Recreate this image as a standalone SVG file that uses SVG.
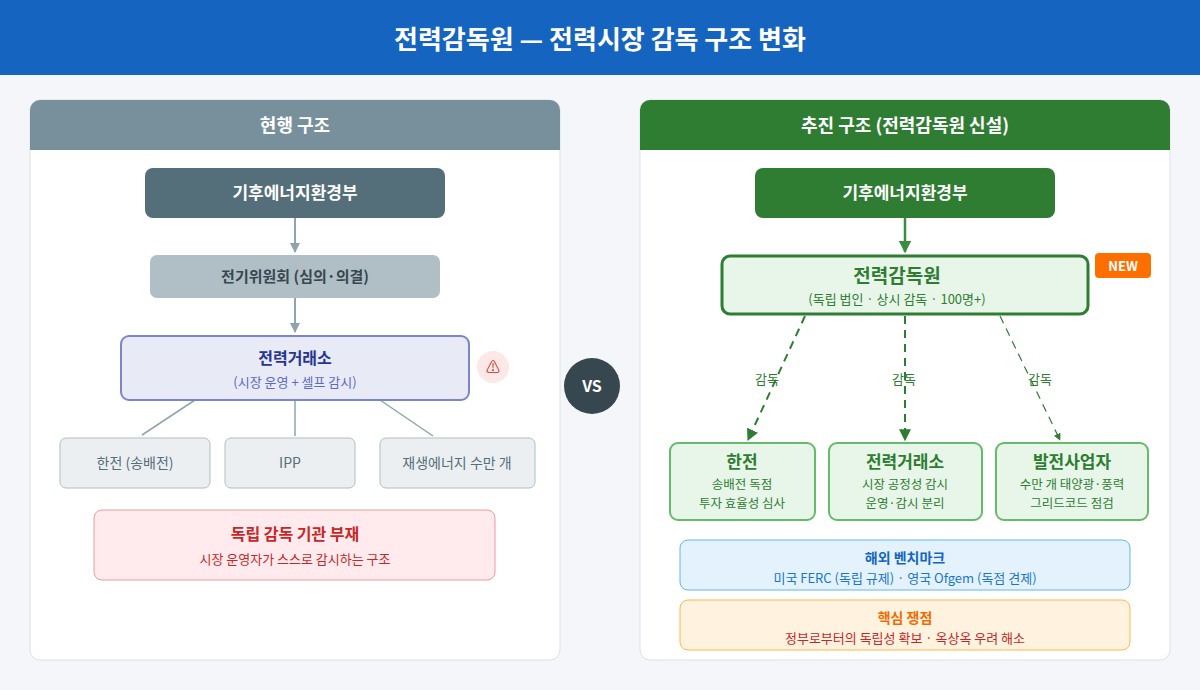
<svg xmlns="http://www.w3.org/2000/svg" width="1200" height="690" viewBox="0 0 1200 690">
<style>
text{font-family:"Noto Sans CJK KR","Noto Sans",sans-serif;text-anchor:middle}
.b{font-weight:bold}
.panel{fill:#fff;stroke:#dde1e7;stroke-width:1}
.sm{fill:#eceff1;stroke:#b0bec5;stroke-width:1}
.gb{fill:#e8f5e9;stroke:#66bb6a;stroke-width:2}
.gt{fill:#2e7d32}
</style>
<defs>
<marker id="ag" viewBox="0 0 10 10" refX="9" refY="5" markerWidth="5" markerHeight="5" orient="auto"><path d="M0,0L10,5L0,10z" fill="#90a4ae"/></marker>
<marker id="ag2" viewBox="0 0 10 10" refX="9" refY="5" markerWidth="5" markerHeight="5" orient="auto"><path d="M0,0L10,5L0,10z" fill="#388e3c"/></marker>
<marker id="ad" viewBox="0 0 10 10" refX="9" refY="5" markerWidth="6" markerHeight="6" orient="auto"><path d="M0,0L10,5L0,10z" fill="#2e7d32"/></marker>
</defs>
<rect width="1200" height="690" fill="#f4f6fa"/>
<rect width="1200" height="75" fill="#1565c0"/>
<text x="600" y="49" class="b" font-size="26" fill="#fff">전력감독원 — 전력시장 감독 구조 변화</text>

<g id="left-panel">
<rect x="30" y="100" width="530" height="560" rx="10" class="panel"/>
<path d="M30,150V110a10,10 0 0 1 10,-10H550a10,10 0 0 1 10,10V150z" fill="#78909c"/>
<text x="295" y="132" class="b" font-size="18" fill="#fff">현행 구조</text>
</g>
<g id="right-panel">
<rect x="640" y="100" width="530" height="560" rx="10" class="panel"/>
<path d="M640,150V110a10,10 0 0 1 10,-10H1160a10,10 0 0 1 10,10V150z" fill="#2e7d32"/>
<text x="905" y="132" class="b" font-size="18" fill="#fff">추진 구조 (전력감독원 신설)</text>
</g>

<g id="connectors">
<line x1="295" y1="218" x2="295" y2="252" stroke="#90a4ae" stroke-width="2" marker-end="url(#ag)"/>
<line x1="295" y1="298" x2="295" y2="332" stroke="#90a4ae" stroke-width="2" marker-end="url(#ag)"/>
<line x1="195" y1="400" x2="142" y2="435" stroke="#90a4ae" stroke-width="1.5"/>
<line x1="295" y1="400" x2="295" y2="436" stroke="#90a4ae" stroke-width="1.5"/>
<line x1="380" y1="400" x2="433" y2="436" stroke="#90a4ae" stroke-width="1.5"/>
<line x1="905" y1="218" x2="905" y2="252" stroke="#388e3c" stroke-width="2.5" marker-end="url(#ag2)"/>
<line x1="805" y1="316" x2="748" y2="440" stroke="#2e7d32" stroke-width="2" stroke-dasharray="8,6" marker-end="url(#ad)"/>
<line x1="905" y1="316" x2="905" y2="440" stroke="#2e7d32" stroke-width="2" stroke-dasharray="8,6" marker-end="url(#ad)"/>
<line x1="1000" y1="316" x2="1060" y2="440" stroke="#2e7d32" stroke-width="1.2" stroke-dasharray="8,6" marker-end="url(#ad)"/>
<text x="767" y="384" font-size="13" class="gt">감독</text>
<text x="904" y="384" font-size="13" class="gt">감독</text>
<text x="1040" y="384" font-size="13" class="gt">감독</text>
</g>

<g id="l-ministry"><rect x="145" y="168" width="300" height="50" rx="8" fill="#546e7a"/><text x="295" y="199" class="b" font-size="17" fill="#fff">기후에너지환경부</text></g>
<g id="l-committee"><rect x="150" y="255" width="290" height="43" rx="7" fill="#b0bec5"/><text x="295" y="282" class="b" font-size="15" fill="#37474f">전기위원회 (심의·의결)</text></g>
<g id="l-kpx"><rect x="121" y="336" width="348" height="64" rx="8" fill="#e8eaf6" stroke="#7986cb" stroke-width="2"/><text x="295" y="364" class="b" font-size="16" fill="#283593">전력거래소</text><text x="295" y="387" font-size="13" fill="#5c6bc0">(시장 운영 + 셀프 감시)</text></g>
<g id="l-warn"><circle cx="493" cy="367" r="16" fill="#fde8e8"/><text x="493" y="372" font-size="14" fill="#c62828">⚠</text></g>
<g id="l-kepco"><rect x="60" y="438" width="150" height="50" rx="6" class="sm"/><text x="135" y="468" font-size="14" fill="#546e7a">한전 (송배전)</text></g>
<g id="l-ipp"><rect x="225" y="438" width="130" height="50" rx="6" class="sm"/><text x="290" y="468" font-size="14" fill="#546e7a">IPP</text></g>
<g id="l-re"><rect x="380" y="438" width="155" height="50" rx="6" class="sm"/><text x="457" y="468" font-size="14" fill="#546e7a">재생에너지 수만 개</text></g>
<g id="l-absent"><rect x="94" y="510" width="401" height="70" rx="8" fill="#ffebee" stroke="#ef9a9a"/><text x="295" y="540" class="b" font-size="16" fill="#c62828">독립 감독 기관 부재</text><text x="295" y="564" font-size="13" fill="#c62828">시장 운영자가 스스로 감시하는 구조</text></g>

<g id="vs"><circle cx="592" cy="386" r="28" fill="#37474f"/><text x="592" y="392" class="b" font-size="16" fill="#fff">VS</text></g>

<g id="r-ministry"><rect x="755" y="168" width="300" height="50" rx="8" fill="#2e7d32"/><text x="905" y="199" class="b" font-size="17" fill="#fff">기후에너지환경부</text></g>
<g id="r-agency"><rect x="722" y="256" width="366" height="58" rx="8" fill="#e8f5e9" stroke="#2e7d32" stroke-width="3"/><text x="897" y="283" class="b" font-size="19" fill="#2e7d32">전력감독원</text><text x="897" y="304" font-size="13" fill="#2e7d32">(독립 법인 · 상시 감독 · 100명+)</text></g>
<g id="r-new"><rect x="1095" y="253" width="56" height="25" rx="4" fill="#ff6f00"/><text x="1123" y="271" class="b" font-size="13" fill="#fff" font-family="Open Sans">NEW</text></g>
<g id="r-kepco"><rect x="670" y="443" width="145" height="77" rx="8" class="gb"/><text x="742" y="468" class="b" font-size="17" fill="#2e7d32">한전</text><text x="742" y="489" font-size="12.5" fill="#2e7d32">송배전 독점</text><text x="742" y="508" font-size="12.5" fill="#2e7d32">투자 효율성 심사</text></g>
<g id="r-kpx"><rect x="829" y="443" width="153" height="77" rx="8" class="gb"/><text x="905" y="468" class="b" font-size="17" fill="#2e7d32">전력거래소</text><text x="905" y="489" font-size="12.5" fill="#2e7d32">시장 공정성 감시</text><text x="905" y="508" font-size="12.5" fill="#2e7d32">운영·감시 분리</text></g>
<g id="r-gen"><rect x="996" y="443" width="152" height="77" rx="8" class="gb"/><text x="1072" y="468" class="b" font-size="17" fill="#2e7d32">발전사업자</text><text x="1072" y="489" font-size="12.5" fill="#2e7d32">수만 개 태양광·풍력</text><text x="1072" y="508" font-size="12.5" fill="#2e7d32">그리드코드 점검</text></g>
<g id="r-bench"><rect x="680" y="540" width="450" height="50" rx="8" fill="#e3f2fd" stroke="#64b5f6"/><text x="905" y="563" class="b" font-size="14" fill="#1565c0">해외 벤치마크</text><text x="905" y="583" font-size="13" fill="#1976d2">미국 FERC (독립 규제) · 영국 Ofgem (독점 견제)</text></g>
<g id="r-issue"><rect x="680" y="600" width="450" height="50" rx="8" fill="#fff3e0" stroke="#ffb74d"/><text x="905" y="623" class="b" font-size="14" fill="#ef6c00">핵심 쟁점</text><text x="905" y="643" font-size="13" fill="#c62828">정부로부터의 독립성 확보 · 옥상옥 우려 해소</text></g>
</svg>
